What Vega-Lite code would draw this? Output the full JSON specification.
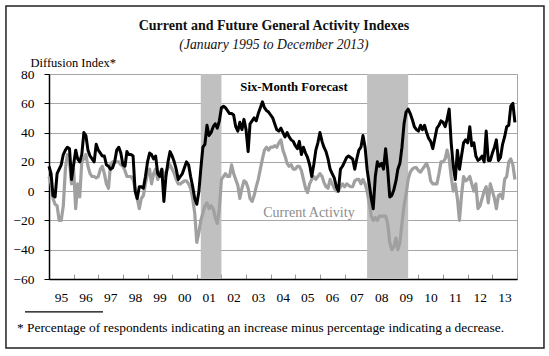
{
  "$schema": "https://vega.github.io/schema/vega-lite/v6.json",
  "width": 468,
  "height": 205,
  "padding": {"left": 5, "top": 5, "right": 4, "bottom": 7},
  "background": "white",
  "config": {
    "view": {"stroke": "#a6a6a6", "strokeWidth": 1},
    "font": "Liberation Serif"
  },
  "data": {
    "values": [
      {"date":"1995-01","f":17,"c":10},{"date":"1995-02","f":12,"c":5},{"date":"1995-03","f":-3,"c":-5},{"date":"1995-04","f":-4,"c":-9},{"date":"1995-05","f":12,"c":-10},{"date":"1995-06","f":15,"c":-20},{"date":"1995-07","f":18,"c":-20},{"date":"1995-08","f":25,"c":-10},{"date":"1995-09","f":28,"c":15},{"date":"1995-10","f":30,"c":25},{"date":"1995-11","f":29,"c":20},{"date":"1995-12","f":8,"c":5},
      {"date":"1996-01","f":18,"c":15},{"date":"1996-02","f":28,"c":-12},{"date":"1996-03","f":22,"c":5},{"date":"1996-04","f":20,"c":-4},{"date":"1996-05","f":25,"c":20},{"date":"1996-06","f":40,"c":22},{"date":"1996-07","f":38,"c":25},{"date":"1996-08","f":28,"c":17},{"date":"1996-09","f":24,"c":12},{"date":"1996-10","f":22,"c":10},{"date":"1996-11","f":20,"c":10},{"date":"1996-12","f":32,"c":9},
      {"date":"1997-01","f":28,"c":10},{"date":"1997-02","f":26,"c":15},{"date":"1997-03","f":24,"c":17},{"date":"1997-04","f":24,"c":12},{"date":"1997-05","f":18,"c":5},{"date":"1997-06","f":17,"c":2},{"date":"1997-07","f":15,"c":18},{"date":"1997-08","f":16,"c":20},{"date":"1997-09","f":20,"c":20},{"date":"1997-10","f":28,"c":20},{"date":"1997-11","f":30,"c":20},{"date":"1997-12","f":26,"c":18},
      {"date":"1998-01","f":18,"c":17},{"date":"1998-02","f":17,"c":14},{"date":"1998-03","f":27,"c":10},{"date":"1998-04","f":25,"c":10},{"date":"1998-05","f":25,"c":10},{"date":"1998-06","f":24,"c":8},{"date":"1998-07","f":0,"c":2},{"date":"1998-08","f":-5,"c":-5},{"date":"1998-09","f":3,"c":-12},{"date":"1998-10","f":3,"c":-5},{"date":"1998-11","f":2,"c":-3},{"date":"1998-12","f":10,"c":5},
      {"date":"1999-01","f":20,"c":12},{"date":"1999-02","f":26,"c":15},{"date":"1999-03","f":25,"c":5},{"date":"1999-04","f":22,"c":12},{"date":"1999-05","f":24,"c":15},{"date":"1999-06","f":12,"c":8},{"date":"1999-07","f":10,"c":12},{"date":"1999-08","f":15,"c":15},{"date":"1999-09","f":-7,"c":10},{"date":"1999-10","f":10,"c":13},{"date":"1999-11","f":20,"c":16},{"date":"1999-12","f":27,"c":18},
      {"date":"2000-01","f":24,"c":15},{"date":"2000-02","f":20,"c":12},{"date":"2000-03","f":15,"c":8},{"date":"2000-04","f":8,"c":5},{"date":"2000-05","f":10,"c":5},{"date":"2000-06","f":12,"c":6},{"date":"2000-07","f":16,"c":7},{"date":"2000-08","f":20,"c":7},{"date":"2000-09","f":18,"c":5},{"date":"2000-10","f":10,"c":2},{"date":"2000-11","f":3,"c":-5},{"date":"2000-12","f":-5,"c":-15},
      {"date":"2001-01","f":-9,"c":-35},{"date":"2001-02","f":0,"c":-28},{"date":"2001-03","f":15,"c":-20},{"date":"2001-04","f":30,"c":-15},{"date":"2001-05","f":32,"c":-10},{"date":"2001-06","f":45,"c":-8},{"date":"2001-07","f":38,"c":-12},{"date":"2001-08","f":40,"c":-10},{"date":"2001-09","f":44,"c":-12},{"date":"2001-10","f":46,"c":-18},{"date":"2001-11","f":43,"c":-22},{"date":"2001-12","f":48,"c":-12},
      {"date":"2002-01","f":57,"c":8},{"date":"2002-02","f":58,"c":10},{"date":"2002-03","f":57,"c":12},{"date":"2002-04","f":55,"c":10},{"date":"2002-05","f":53,"c":10},{"date":"2002-06","f":53,"c":18},{"date":"2002-07","f":52,"c":12},{"date":"2002-08","f":44,"c":8},{"date":"2002-09","f":41,"c":4},{"date":"2002-10","f":47,"c":-5},{"date":"2002-11","f":42,"c":2},{"date":"2002-12","f":49,"c":7},
      {"date":"2003-01","f":42,"c":6},{"date":"2003-02","f":27,"c":2},{"date":"2003-03","f":46,"c":-5},{"date":"2003-04","f":48,"c":-7},{"date":"2003-05","f":50,"c":-3},{"date":"2003-06","f":48,"c":3},{"date":"2003-07","f":53,"c":8},{"date":"2003-08","f":57,"c":15},{"date":"2003-09","f":61,"c":22},{"date":"2003-10","f":57,"c":28},{"date":"2003-11","f":55,"c":30},{"date":"2003-12","f":54,"c":28},
      {"date":"2004-01","f":52,"c":30},{"date":"2004-02","f":50,"c":30},{"date":"2004-03","f":46,"c":31},{"date":"2004-04","f":42,"c":30},{"date":"2004-05","f":41,"c":33},{"date":"2004-06","f":43,"c":35},{"date":"2004-07","f":40,"c":28},{"date":"2004-08","f":37,"c":24},{"date":"2004-09","f":40,"c":19},{"date":"2004-10","f":37,"c":17},{"date":"2004-11","f":35,"c":18},{"date":"2004-12","f":34,"c":15},
      {"date":"2005-01","f":31,"c":15},{"date":"2005-02","f":29,"c":17},{"date":"2005-03","f":34,"c":17},{"date":"2005-04","f":25,"c":14},{"date":"2005-05","f":30,"c":8},{"date":"2005-06","f":26,"c":2},{"date":"2005-07","f":23,"c":-1},{"date":"2005-08","f":18,"c":5},{"date":"2005-09","f":10,"c":8},{"date":"2005-10","f":18,"c":10},{"date":"2005-11","f":28,"c":8},{"date":"2005-12","f":33,"c":10},
      {"date":"2006-01","f":40,"c":12},{"date":"2006-02","f":34,"c":10},{"date":"2006-03","f":30,"c":6},{"date":"2006-04","f":27,"c":3},{"date":"2006-05","f":22,"c":2},{"date":"2006-06","f":15,"c":8},{"date":"2006-07","f":12,"c":5},{"date":"2006-08","f":9,"c":2},{"date":"2006-09","f":3,"c":0},{"date":"2006-10","f":0,"c":0},{"date":"2006-11","f":15,"c":3},{"date":"2006-12","f":17,"c":5},
      {"date":"2007-01","f":20,"c":3},{"date":"2007-02","f":23,"c":5},{"date":"2007-03","f":24,"c":4},{"date":"2007-04","f":23,"c":3},{"date":"2007-05","f":22,"c":3},{"date":"2007-06","f":15,"c":7},{"date":"2007-07","f":22,"c":8},{"date":"2007-08","f":28,"c":8},{"date":"2007-09","f":30,"c":5},{"date":"2007-10","f":38,"c":8},{"date":"2007-11","f":30,"c":5},{"date":"2007-12","f":15,"c":0},
      {"date":"2008-01","f":5,"c":-8},{"date":"2008-02","f":-5,"c":-17},{"date":"2008-03","f":-12,"c":-20},{"date":"2008-04","f":10,"c":-18},{"date":"2008-05","f":20,"c":-20},{"date":"2008-06","f":17,"c":-17},{"date":"2008-07","f":19,"c":-17},{"date":"2008-08","f":15,"c":-17},{"date":"2008-09","f":29,"c":-17},{"date":"2008-10","f":15,"c":-22},{"date":"2008-11","f":-4,"c":-35},{"date":"2008-12","f":-3,"c":-40},
      {"date":"2009-01","f":1,"c":-38},{"date":"2009-02","f":7,"c":-32},{"date":"2009-03","f":15,"c":-40},{"date":"2009-04","f":19,"c":-35},{"date":"2009-05","f":30,"c":-22},{"date":"2009-06","f":46,"c":-10},{"date":"2009-07","f":54,"c":-2},{"date":"2009-08","f":56,"c":8},{"date":"2009-09","f":53,"c":13},{"date":"2009-10","f":49,"c":15},{"date":"2009-11","f":44,"c":16},{"date":"2009-12","f":42,"c":16},
      {"date":"2010-01","f":41,"c":14},{"date":"2010-02","f":45,"c":13},{"date":"2010-03","f":42,"c":15},{"date":"2010-04","f":45,"c":17},{"date":"2010-05","f":40,"c":19},{"date":"2010-06","f":36,"c":15},{"date":"2010-07","f":34,"c":7},{"date":"2010-08","f":29,"c":5},{"date":"2010-09","f":36,"c":5},{"date":"2010-10","f":43,"c":5},{"date":"2010-11","f":45,"c":12},{"date":"2010-12","f":48,"c":20},
      {"date":"2011-01","f":47,"c":20},{"date":"2011-02","f":44,"c":22},{"date":"2011-03","f":49,"c":28},{"date":"2011-04","f":56,"c":22},{"date":"2011-05","f":33,"c":10},{"date":"2011-06","f":17,"c":0},{"date":"2011-07","f":8,"c":5},{"date":"2011-08","f":28,"c":-5},{"date":"2011-09","f":15,"c":-20},{"date":"2011-10","f":24,"c":-3},{"date":"2011-11","f":33,"c":10},{"date":"2011-12","f":35,"c":7},
      {"date":"2012-01","f":33,"c":8},{"date":"2012-02","f":44,"c":10},{"date":"2012-03","f":31,"c":5},{"date":"2012-04","f":33,"c":0},{"date":"2012-05","f":24,"c":5},{"date":"2012-06","f":21,"c":-12},{"date":"2012-07","f":22,"c":-10},{"date":"2012-08","f":24,"c":-5},{"date":"2012-09","f":20,"c":0},{"date":"2012-10","f":41,"c":3},{"date":"2012-11","f":21,"c":-8},{"date":"2012-12","f":21,"c":5},
      {"date":"2013-01","f":26,"c":0},{"date":"2013-02","f":30,"c":-5},{"date":"2013-03","f":35,"c":-12},{"date":"2013-04","f":21,"c":-3},{"date":"2013-05","f":23,"c":-2},{"date":"2013-06","f":32,"c":-5},{"date":"2013-07","f":37,"c":8},{"date":"2013-08","f":44,"c":10},{"date":"2013-09","f":45,"c":20},{"date":"2013-10","f":58,"c":22},{"date":"2013-11","f":60,"c":18},{"date":"2013-12","f":47,"c":8}
    ]
  },
  "layer": [
    {
      "mark": {"type": "line", "color": "#a0a0a0", "strokeWidth": 3.2, "strokeJoin": "round", "opacity": 0},
      "encoding": {
        "x": {
          "field": "date", "type": "temporal",
          "scale": {"type": "utc", "domain": [{"year": 1995, "month": 1, "date": 1, "utc": true}, {"year": 2014, "month": 1, "date": 1, "utc": true}]},
          "axis": {
            "title": null,
            "values": [{"year":1995,"utc":true},{"year":1996,"utc":true},{"year":1997,"utc":true},{"year":1998,"utc":true},{"year":1999,"utc":true},{"year":2000,"utc":true},{"year":2001,"utc":true},{"year":2002,"utc":true},{"year":2003,"utc":true},{"year":2004,"utc":true},{"year":2005,"utc":true},{"year":2006,"utc":true},{"year":2007,"utc":true},{"year":2008,"utc":true},{"year":2009,"utc":true},{"year":2010,"utc":true},{"year":2011,"utc":true},{"year":2012,"utc":true},{"year":2013,"utc":true},{"year":2014,"utc":true}],
            "tickCount": 40,
            "labelExpr": "utcyear(datum.value) == 2014 ? '' : utcFormat(datum.value, '%y')",
            "labelOffset": 12,
            "labelFlush": false,
            "labelOverlap": false,
            "labelBound": false,
            "labelFont": "Liberation Serif",
            "labelFontSize": 13.5,
            "labelColor": "#000",
            "labelPadding": 16,
            "tickSize": -5,
            "tickColor": "#9a9a9a",
            "domainColor": "#000",
            "domainWidth": 1.5,
            "grid": false
          }
        },
        "y": {
          "field": "c", "type": "quantitative",
          "scale": {"domain": [-60, 80], "nice": false, "zero": false},
          "axis": {
            "title": "Diffusion Index*",
            "titleAngle": 0,
            "titleAlign": "left",
            "titleBaseline": "alphabetic",
            "titleX": -19,
            "titleY": -8,
            "titleFont": "Liberation Serif",
            "titleFontSize": 12.5,
            "titleFontWeight": "normal",
            "titleColor": "#000",
            "values": [-60, -40, -20, 0, 20, 40, 60, 80],
            "tickCount": 20,
            "labelOverlap": false,
            "grid": true,
            "gridColor": "#a6a6a6",
            "gridWidth": 1,
            "domainColor": "#000",
            "domainWidth": 1.5,
            "tickColor": "#000",
            "tickSize": 5,
            "labelPadding": 10,
            "labelFont": "Liberation Serif",
            "labelFontSize": 13.5,
            "labelColor": "#000"
          }
        }
      }
    },
    {
      "data": {"values": [{"start": "2001-03", "end": "2002-01"}, {"start": "2007-12", "end": "2009-08"}]},
      "mark": {"type": "rect", "color": "#c0c0c0"},
      "encoding": {
        "x": {"field": "start", "type": "temporal", "scale": {"type": "utc", "domain": [{"year": 1995, "month": 1, "date": 1, "utc": true}, {"year": 2014, "month": 1, "date": 1, "utc": true}]}},
        "x2": {"field": "end"},
        "y": {"datum": -60, "type": "quantitative", "scale": {"domain": [-60, 80], "nice": false, "zero": false}},
        "y2": {"datum": 80}
      }
    },
    {
      "mark": {"type": "line", "color": "#a0a0a0", "strokeWidth": 3.2, "strokeJoin": "round"},
      "encoding": {
        "x": {"field": "date", "type": "temporal", "scale": {"type": "utc", "domain": [{"year": 1995, "month": 1, "date": 1, "utc": true}, {"year": 2014, "month": 1, "date": 1, "utc": true}]}},
        "y": {"field": "c", "type": "quantitative", "scale": {"domain": [-60, 80], "nice": false, "zero": false}}
      }
    },
    {
      "mark": {"type": "line", "color": "#000000", "strokeWidth": 3, "strokeJoin": "round"},
      "encoding": {
        "x": {"field": "date", "type": "temporal", "scale": {"type": "utc", "domain": [{"year": 1995, "month": 1, "date": 1, "utc": true}, {"year": 2014, "month": 1, "date": 1, "utc": true}]}},
        "y": {"field": "f", "type": "quantitative", "scale": {"domain": [-60, 80], "nice": false, "zero": false}}
      }
    },
    {
      "data": {"values": [{}]},
      "mark": {"type": "text", "text": "Six-Month Forecast", "font": "Liberation Serif", "fontSize": 12.7, "fontWeight": "bold", "color": "#000", "align": "center", "baseline": "middle"},
      "encoding": {
        "x": {"datum": {"year": 2004, "month": 12, "date": 12, "utc": true}, "type": "temporal", "scale": {"type": "utc", "domain": [{"year": 1995, "month": 1, "date": 1, "utc": true}, {"year": 2014, "month": 1, "date": 1, "utc": true}]}},
        "y": {"datum": 71.3, "type": "quantitative", "scale": {"domain": [-60, 80], "nice": false, "zero": false}}
      }
    },
    {
      "data": {"values": [{}]},
      "mark": {"type": "text", "text": "Current Activity", "font": "Liberation Serif", "fontSize": 14, "color": "#8c8c8c", "align": "center", "baseline": "middle"},
      "encoding": {
        "x": {"datum": {"year": 2005, "month": 7, "date": 22, "utc": true}, "type": "temporal", "scale": {"type": "utc", "domain": [{"year": 1995, "month": 1, "date": 1, "utc": true}, {"year": 2014, "month": 1, "date": 1, "utc": true}]}},
        "y": {"datum": -14.7, "type": "quantitative", "scale": {"domain": [-60, 80], "nice": false, "zero": false}}
      }
    },
    {
      "data": {"values": [{}]},
      "mark": {"type": "text", "text": "Current and Future General Activity Indexes", "font": "Liberation Serif", "fontSize": 14, "fontWeight": "bold", "color": "#111", "align": "center", "baseline": "middle"},
      "encoding": {
        "x": {"datum": {"year": 2004, "month": 2, "date": 19, "utc": true}, "type": "temporal", "scale": {"type": "utc", "domain": [{"year": 1995, "month": 1, "date": 1, "utc": true}, {"year": 2014, "month": 1, "date": 1, "utc": true}]}},
        "y": {"datum": 112.8, "type": "quantitative", "scale": {"domain": [-60, 80], "nice": false, "zero": false}}
      }
    },
    {
      "data": {"values": [{}]},
      "mark": {"type": "text", "text": "(January 1995 to December 2013)", "font": "Liberation Serif", "fontSize": 13.7, "fontStyle": "italic", "color": "#111", "align": "center", "baseline": "middle"},
      "encoding": {
        "x": {"datum": {"year": 2004, "month": 2, "date": 19, "utc": true}, "type": "temporal", "scale": {"type": "utc", "domain": [{"year": 1995, "month": 1, "date": 1, "utc": true}, {"year": 2014, "month": 1, "date": 1, "utc": true}]}},
        "y": {"datum": 99.5, "type": "quantitative", "scale": {"domain": [-60, 80], "nice": false, "zero": false}}
      }
    },
    {
      "data": {"values": [{}]},
      "mark": {"type": "text", "text": "* Percentage of respondents indicating an increase minus percentage indicating a decrease.", "font": "Liberation Serif", "fontSize": 13.4, "color": "#000", "align": "left", "baseline": "middle"},
      "encoding": {
        "x": {"datum": {"year": 1993, "month": 9, "date": 13, "utc": true}, "type": "temporal", "scale": {"type": "utc", "domain": [{"year": 1995, "month": 1, "date": 1, "utc": true}, {"year": 2014, "month": 1, "date": 1, "utc": true}]}},
        "y": {"datum": -93.5, "type": "quantitative", "scale": {"domain": [-60, 80], "nice": false, "zero": false}}
      }
    },
    {
      "data": {"values": [{}]},
      "mark": {"type": "rule", "color": "#000", "strokeWidth": 1.2},
      "encoding": {
        "x": {"datum": {"year": 1994, "month": 1, "date": 10, "utc": true}, "type": "temporal", "scale": {"type": "utc", "domain": [{"year": 1995, "month": 1, "date": 1, "utc": true}, {"year": 2014, "month": 1, "date": 1, "utc": true}]}},
        "x2": {"datum": {"year": 1997, "month": 3, "date": 12, "utc": true}},
        "y": {"datum": -82.5, "type": "quantitative", "scale": {"domain": [-60, 80], "nice": false, "zero": false}}
      }
    },
    {
      "data": {"values": [{}]},
      "mark": {"type": "rect", "fillOpacity": 0, "fill": "white", "stroke": "#222", "strokeWidth": 1.5},
      "encoding": {
        "x": {"datum": {"year": 1993, "month": 4, "date": 3, "utc": true}, "type": "temporal", "scale": {"type": "utc", "domain": [{"year": 1995, "month": 1, "date": 1, "utc": true}, {"year": 2014, "month": 1, "date": 1, "utc": true}]}},
        "x2": {"datum": {"year": 2015, "month": 2, "date": 5, "utc": true}},
        "y": {"datum": 126.4, "type": "quantitative", "scale": {"domain": [-60, 80], "nice": false, "zero": false}},
        "y2": {"datum": -107.1}
      }
    }
  ]
}
